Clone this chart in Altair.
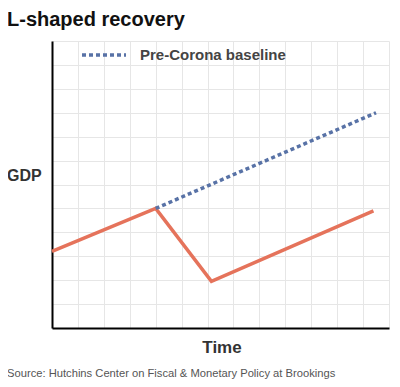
import altair as alt
import pandas as pd

# Data (arbitrary units: time steps 0..13, GDP 0..12)
actual_time = [0, 4, 6.15, 12.4]
actual_gdp = [3.2, 5.0, 1.95, 4.9]
baseline_time = [4, 12.5]
baseline_gdp = [5.0, 9.0]
series_name = "Pre-Corona baseline"

title_text = "L-shaped recovery"
y_title = "GDP"
x_title = "Time"
source_text = "Source: Hutchins Center on Fiscal & Monetary Policy at Brookings"

RED = "#e5735b"
BLUE = "#5872a6"
FONT = "Liberation Sans"

actual_df = pd.DataFrame({"t": actual_time, "g": actual_gdp})
base_df = pd.DataFrame({"t": baseline_time, "g": baseline_gdp, "s": [series_name] * 2})

xs = alt.Scale(domain=[0, 13], nice=False, zero=False)
ys = alt.Scale(domain=[0, 12], nice=False, zero=False)


def make_x_axis():
    return alt.Axis(values=list(range(14)), labels=False, ticks=False, title=None,
                    domainColor="black", domainWidth=2, gridColor="#e6e6e6", gridWidth=1)


def make_y_axis():
    return alt.Axis(values=list(range(13)), labels=False, ticks=False, title=None,
                    domainColor="black", domainWidth=2, gridColor="#e6e6e6", gridWidth=1)


actual = alt.Chart(actual_df).mark_line(color=RED, strokeWidth=3.5).encode(
    x=alt.X("t:Q", scale=xs, axis=make_x_axis()),
    y=alt.Y("g:Q", scale=ys, axis=make_y_axis()),
)

baseline = alt.Chart(base_df).mark_line(strokeWidth=3.5, strokeDash=[4, 3]).encode(
    x=alt.X("t:Q", scale=xs, axis=make_x_axis()),
    y=alt.Y("g:Q", scale=ys, axis=make_y_axis()),
    color=alt.Color("s:N", scale=alt.Scale(domain=[series_name], range=[BLUE]),
                    legend=alt.Legend(title=None, orient="none", legendX=28, legendY=-10,
                                      symbolType="stroke", symbolSize=1936,
                                      symbolStrokeWidth=3.5, symbolDash=[4, 3],
                                      labelFont=FONT, labelFontSize=15, labelFontWeight="bold",
                                      labelColor="#444444", labelOffset=12)),
)

one = alt.Data(values=[{}])


def label(text, x, y, size, weight, color, align="left"):
    return alt.Chart(one).mark_text(text=text, font=FONT, fontSize=size, fontWeight=weight,
                                    color=color, align=align, baseline="alphabetic").encode(
        x=alt.value(x), y=alt.value(y))


title = label(title_text, -45, -15, 20, "bold", "#111111")
gdp = label(y_title, -45, 140, 16, "bold", "#333333")
time = label(x_title, 170, 312, 17, "bold", "#333333", align="center")
source = label(source_text, -45, 335.5, 11.2, "normal", "#555555")

chart = alt.layer(actual, baseline, title, gdp, time, source).properties(
    width=337, height=287,
    autosize=alt.AutoSizeParams(type="none"),
    padding={"left": 44, "top": 33, "right": 3, "bottom": 51},
).configure_view(strokeWidth=0)

chart.save("out.html", embed_options={"renderer": "svg", "actions": False})
